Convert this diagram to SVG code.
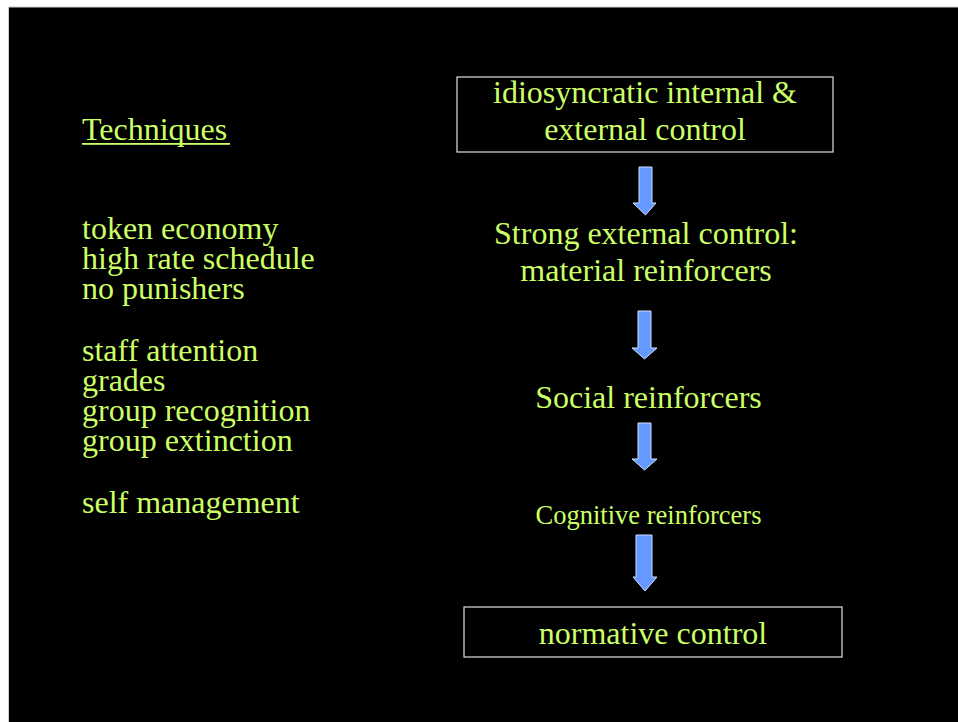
<svg xmlns="http://www.w3.org/2000/svg" width="958" height="722" viewBox="0 0 958 722">
<style>
.t{font-family:"Liberation Serif","Times New Roman",serif;font-size:32px;fill:#ccff66}
.c{text-anchor:middle}
.box{fill:none;stroke:#e0e0e0;stroke-width:1.2}
.arr{fill:#6699ff;stroke:#cfe0ff;stroke-width:1}
</style>
<rect x="0" y="0" width="958" height="722" fill="#ffffff"/>
<rect x="8.5" y="7" width="960" height="730" fill="#000000" stroke="#d0d0d0" stroke-width="1"/>
<g id="techniques">
<text class="t" x="82" y="140">Techniques</text>
<rect x="82" y="143" width="148" height="1.8" fill="#ccff66"/>
</g>
<g id="technique-list">
<text class="t" x="82" y="239">token economy</text>
<text class="t" x="82" y="269">high rate schedule</text>
<text class="t" x="82" y="299">no punishers</text>
<text class="t" x="82" y="361">staff attention</text>
<text class="t" x="82" y="391">grades</text>
<text class="t" x="82" y="421">group recognition</text>
<text class="t" x="82" y="451">group extinction</text>
<text class="t" x="82" y="513">self management</text>
</g>
<g id="node-idiosyncratic">
<rect class="box" x="457" y="77" width="376" height="75"/>
<text class="t c" x="645" y="102.5">idiosyncratic internal &amp;</text>
<text class="t c" x="645" y="139.5">external control</text>
</g>
<g id="node-strong">
<text class="t c" x="646" y="244">Strong external control:</text>
<text class="t c" x="646" y="281">material reinforcers</text>
</g>
<g id="node-social">
<text class="t c" x="648.5" y="407.5">Social reinforcers</text>
</g>
<g id="node-cognitive">
<text class="t c" x="648.5" y="523.5" style="font-size:26.5px">Cognitive reinforcers</text>
</g>
<g id="node-normative">
<rect class="box" x="464" y="607" width="378" height="50"/>
<text class="t c" x="653" y="643.5">normative control</text>
</g>
<g id="connectors">
<polygon class="arr" points="639,167 652,167 652,203 656,203 645.5,215 633,203 639,203"/>
<polygon class="arr" points="638,311 651,311 651,348 657,348 644.5,359 632,348 638,348"/>
<polygon class="arr" points="638,423 651,423 651,459 657,459 644.5,470 632,459 638,459"/>
<polygon class="arr" points="636,535 652,535 652,577 657,577 645,591 633,577 636,577"/>
</g>
</svg>
